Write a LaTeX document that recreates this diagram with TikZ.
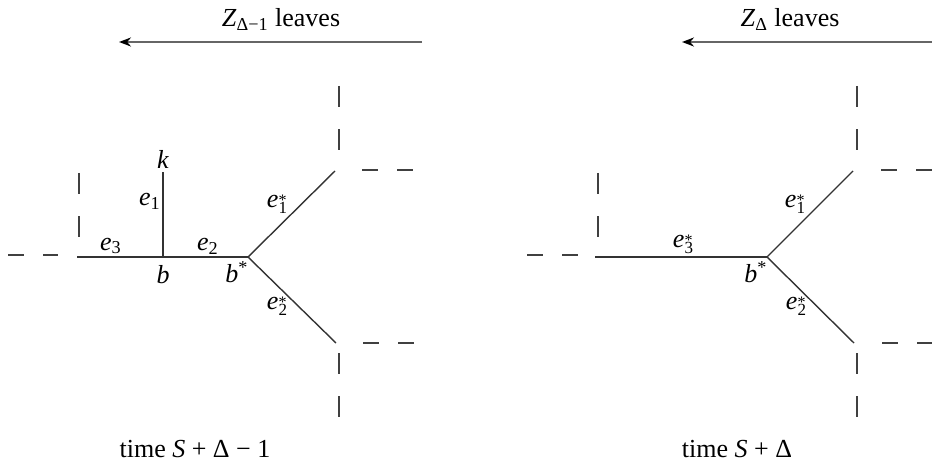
\documentclass[tikz,border=0pt]{standalone}
\usepackage{fontspec}
\setmainfont{Liberation Serif}
\usetikzlibrary{arrows.meta}
\newcommand\elab[1]{\textit{e}\textsubscript{#1}}
\newcommand\eslab[1]{\textit{e}\makebox[0pt][l]{\raisebox{1.3pt}{\fontsize{8}{8}\selectfont *}}\raisebox{-2.6pt}{\fontsize{8.5}{8.5}\selectfont #1}}
\begin{document}
\begin{tikzpicture}[x=0.5pt,y=-0.5pt,
  edge/.style={draw=black!80,line width=0.7pt},
  hdash/.style={draw=black!75,line width=0.7pt,dash pattern=on 8pt off 9.5pt},
  vdash/.style={draw=black!75,line width=0.7pt,dash pattern=on 10.5pt off 11.2pt},
  leave/.style={draw=black!60,line width=1pt,-{Stealth[length=6pt,width=4.5pt,black]}},
  lbl/.style={font=\fontsize{13}{15}\selectfont,inner sep=0pt},
  ttl/.style={font=\fontsize{13}{15}\selectfont,inner sep=0pt,anchor=base}]
\useasboundingbox (0,0) rectangle (932,465);
% ---------- left diagram ----------
\coordinate (L) at (77,257);
\coordinate (b) at (163,257);
\coordinate (k) at (163,172);
\coordinate (bs) at (248,257);
\coordinate (U) at (335,171);
\coordinate (D) at (336,343);
\draw[edge] (L) -- (bs);
\draw[edge] (b) -- (k);
\draw[edge] (bs) -- (U);
\draw[edge] (bs) -- (D);
% dashed stubs
\coordinate (lh1) at (8,255); \coordinate (lh2) at (58,255);
\draw[hdash] (lh1) -- (lh2);
\coordinate (lv1) at (79,173); \coordinate (lv2) at (79,237);
\draw[vdash] (lv1) -- (lv2);
\coordinate (uv1) at (339,86); \coordinate (uv2) at (339,150);
\draw[vdash] (uv1) -- (uv2);
\coordinate (uh1) at (362,170); \coordinate (uh2) at (413,170);
\draw[hdash] (uh1) -- (uh2);
\coordinate (dh1) at (363,343); \coordinate (dh2) at (414,343);
\draw[hdash] (dh1) -- (dh2);
\coordinate (dv1) at (339,353); \coordinate (dv2) at (339,418);
\draw[vdash] (dv1) -- (dv2);
% labels
\node[lbl] (klab) at (163,159) {\textit{k}};
\node[lbl] (e1) at (150,201) {\elab{1}};
\node[lbl] (e3) at (111,246) {\elab{3}};
\node[lbl] (e2) at (208,246) {\elab{2}};
\node[lbl] (blab) at (163,275) {\textit{b}};
\node[lbl] (bslab) at (237,272) {\textit{b}\textsuperscript{*}};
\node[lbl] (e1s) at (277,204) {\eslab{1}};
\node[lbl] (e2s) at (277,306) {\eslab{2}};
% arrow and titles
\coordinate (a1s) at (422,42); \coordinate (a1e) at (119,42);
\draw[leave] (a1s) -- (a1e);
\node[ttl] (z1) at (281,27) {\textit{Z}\textsubscript{Δ−1} leaves};
\node[ttl] (t1) at (195,457) {time \textit{S} + Δ − 1};
% ---------- right diagram ----------
\coordinate (L2) at (595,257);
\coordinate (bs2) at (767,257);
\coordinate (U2) at (853,171);
\coordinate (D2) at (854,343);
\draw[edge] (L2) -- (bs2);
\draw[edge] (bs2) -- (U2);
\draw[edge] (bs2) -- (D2);
\coordinate (rlh1) at (527,255); \coordinate (rlh2) at (578,255);
\draw[hdash] (rlh1) -- (rlh2);
\coordinate (rlv1) at (598,173); \coordinate (rlv2) at (598,237);
\draw[vdash] (rlv1) -- (rlv2);
\coordinate (ruv1) at (857,86); \coordinate (ruv2) at (857,150);
\draw[vdash] (ruv1) -- (ruv2);
\coordinate (ruh1) at (881,170); \coordinate (ruh2) at (932,170);
\draw[hdash] (ruh1) -- (ruh2);
\coordinate (rdh1) at (882,343); \coordinate (rdh2) at (932,343);
\draw[hdash] (rdh1) -- (rdh2);
\coordinate (rdv1) at (857,353); \coordinate (rdv2) at (857,418);
\draw[vdash] (rdv1) -- (rdv2);
\node[lbl] (e3s) at (683,244) {\eslab{3}};
\node[lbl] (bs2lab) at (756,272) {\textit{b}\textsuperscript{*}};
\node[lbl] (re1s) at (795,204) {\eslab{1}};
\node[lbl] (re2s) at (796,306) {\eslab{2}};
\coordinate (a2s) at (932,42); \coordinate (a2e) at (682,42);
\draw[leave] (a2s) -- (a2e);
\node[ttl] (z2) at (790,27) {\textit{Z}\textsubscript{Δ} leaves};
\node[ttl] (t2) at (737,457) {time \textit{S} + Δ};
\end{tikzpicture}
\end{document}
